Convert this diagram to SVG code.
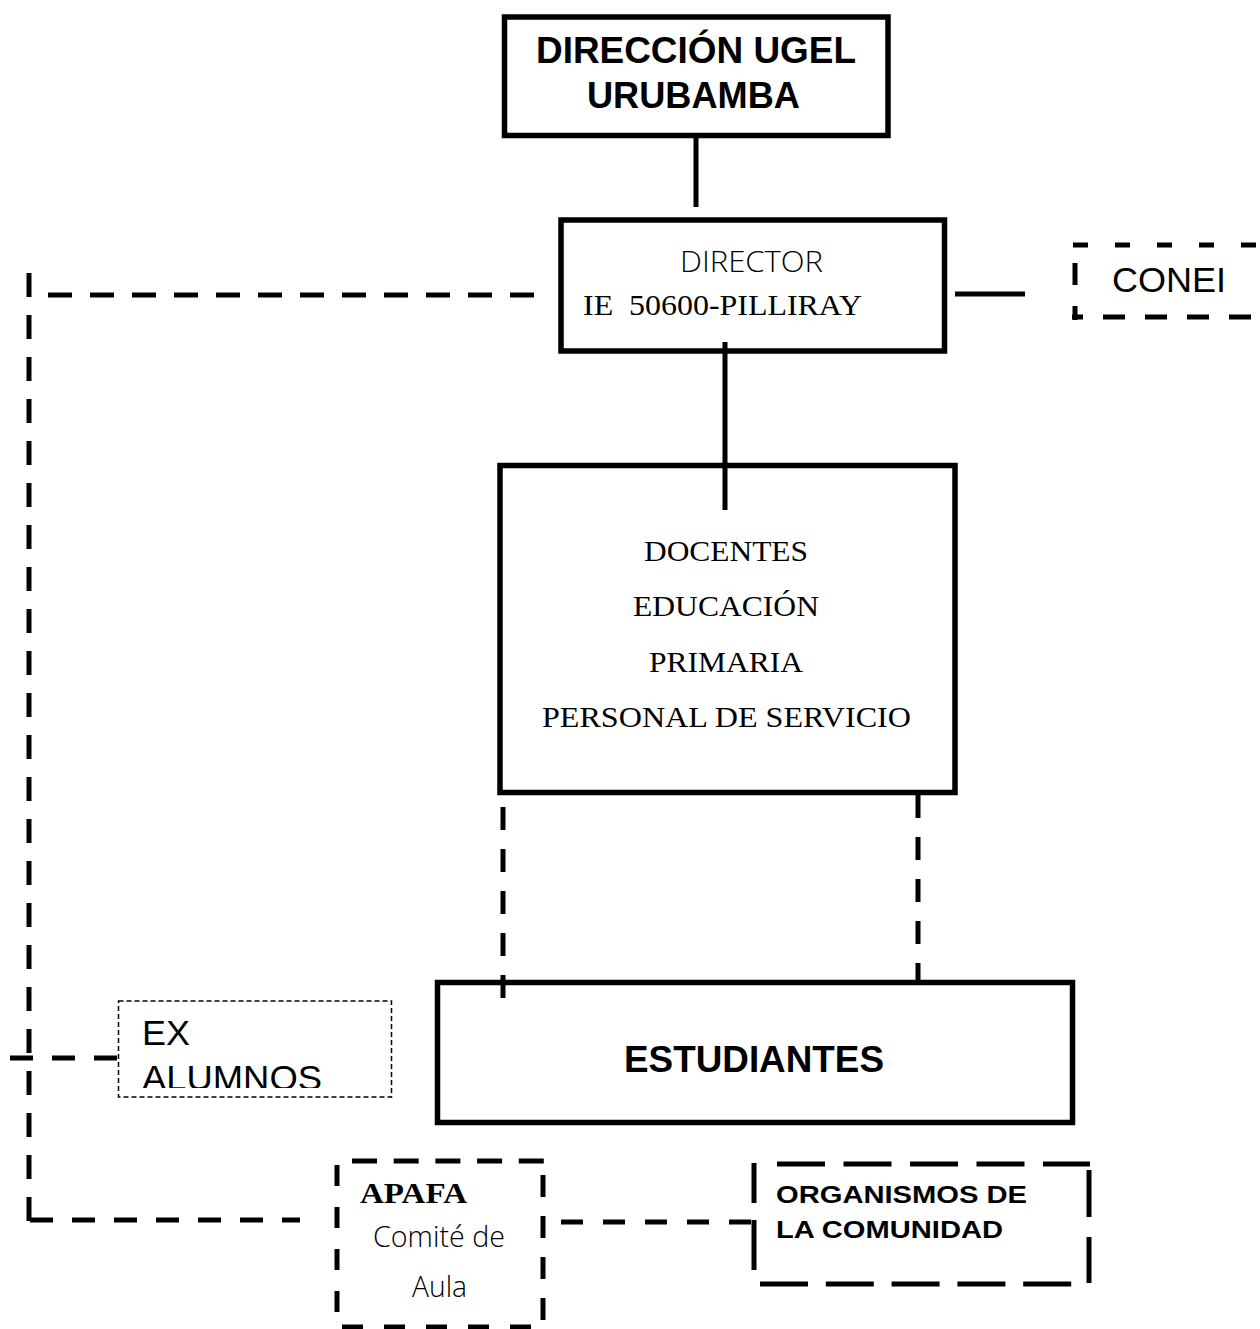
<svg xmlns="http://www.w3.org/2000/svg" width="1260" height="1329" viewBox="0 0 1260 1329">
<style>
.box{fill:#fff;stroke:#000;stroke-width:5.5}
.solid{stroke:#000;stroke-width:5;fill:none}
.dash{stroke:#000;stroke-width:5;fill:none;stroke-dasharray:23 19}
.sansb{font-family:"Liberation Sans",Arial,sans-serif;font-weight:bold;fill:#000}
.sans{font-family:"Liberation Sans",Arial,sans-serif;fill:#000}
.serif{font-family:"Liberation Serif","Times New Roman",serif;fill:#000}
.light{font-family:"Open Sans","Noto Sans",sans-serif;font-weight:300;fill:#000}
</style>
<defs>
<clipPath id="exclip"><rect x="119" y="1002" width="271" height="86"/></clipPath>
</defs>
<rect width="1260" height="1329" fill="#fff"/>
<g id="n-ugel">
<rect class="box" x="504.5" y="17" width="383.5" height="118.5"/>
<text class="sansb" x="536" y="63" font-size="36" textLength="320" lengthAdjust="spacingAndGlyphs">DIRECCIÓN UGEL</text>
<text class="sansb" x="587" y="108" font-size="36" textLength="213" lengthAdjust="spacingAndGlyphs">URUBAMBA</text>
</g>
<g id="n-director">
<rect class="box" x="561" y="220" width="383.5" height="131"/>
<text class="light" x="680" y="272" font-size="29" textLength="143" lengthAdjust="spacingAndGlyphs">DIRECTOR</text>
<text class="serif" x="583" y="315" font-size="30" textLength="279" lengthAdjust="spacingAndGlyphs" xml:space="preserve">IE  50600-PILLIRAY</text>
</g>
<g id="n-docentes">
<rect class="box" x="500" y="465.5" width="455" height="327"/>
<text class="serif" x="644" y="561" font-size="30" textLength="164" lengthAdjust="spacingAndGlyphs">DOCENTES</text>
<text class="serif" x="633" y="616" font-size="30" textLength="186" lengthAdjust="spacingAndGlyphs">EDUCACIÓN</text>
<text class="serif" x="649" y="672" font-size="30" textLength="154" lengthAdjust="spacingAndGlyphs">PRIMARIA</text>
<text class="serif" x="542" y="727" font-size="30" textLength="369" lengthAdjust="spacingAndGlyphs">PERSONAL DE SERVICIO</text>
</g>
<g id="n-estudiantes">
<rect class="box" x="437.5" y="982.5" width="635" height="140"/>
<text class="sansb" x="624" y="1072" font-size="36" textLength="260" lengthAdjust="spacingAndGlyphs">ESTUDIANTES</text>
</g>
<g id="n-conei">
<line class="solid" x1="1073" y1="245" x2="1262" y2="245" style="stroke-dasharray:15 27"/>
<line class="solid" x1="1075" y1="263" x2="1075" y2="320" style="stroke-dasharray:22 21"/>
<line class="solid" x1="1072" y1="317" x2="1262" y2="317" style="stroke-dasharray:22 20;stroke-dashoffset:11"/>
<text class="sans" x="1112" y="292" font-size="35" textLength="114" lengthAdjust="spacingAndGlyphs">CONEI</text>
</g>
<g id="n-exalumnos">
<rect x="118.5" y="1001" width="273" height="96" fill="#fff" stroke="#000" stroke-width="1.5" stroke-dasharray="5 3"/>
<g clip-path="url(#exclip)">
<text class="sans" x="142" y="1045" font-size="35" textLength="48" lengthAdjust="spacingAndGlyphs">EX</text>
<text class="sans" x="142" y="1090" font-size="35" textLength="180" lengthAdjust="spacingAndGlyphs">ALUMNOS</text>
</g>
</g>
<g id="n-apafa">
<line class="solid" x1="337" y1="1165" x2="337" y2="1313" style="stroke-dasharray:21 21"/>
<line class="solid" x1="352" y1="1161" x2="544" y2="1161" style="stroke-dasharray:25 16.7"/>
<line class="solid" x1="543" y1="1175" x2="543" y2="1323" style="stroke-dasharray:22 19"/>
<line class="solid" x1="342" y1="1327" x2="531" y2="1327" style="stroke-dasharray:21 21"/>
<text class="serif" x="360" y="1203" font-size="30" font-weight="bold" textLength="107" lengthAdjust="spacingAndGlyphs">APAFA</text>
<text class="light" x="373" y="1247" font-size="29" textLength="132" lengthAdjust="spacingAndGlyphs">Comité de</text>
<text class="light" x="412" y="1297" font-size="29" textLength="55" lengthAdjust="spacingAndGlyphs">Aula</text>
</g>
<g id="n-organismos">
<line class="solid" x1="754" y1="1163" x2="754" y2="1203"/>
<line class="solid" x1="754" y1="1220" x2="754" y2="1270"/>
<line class="solid" x1="777" y1="1164" x2="1090" y2="1164" style="stroke-dasharray:48 18.5"/>
<line class="solid" x1="1089" y1="1170" x2="1089" y2="1217"/>
<line class="solid" x1="1089" y1="1237" x2="1089" y2="1283"/>
<line class="solid" x1="760" y1="1284" x2="1072" y2="1284" style="stroke-dasharray:48 17.8"/>
<text class="sansb" x="776" y="1203" font-size="24" textLength="251" lengthAdjust="spacingAndGlyphs">ORGANISMOS DE</text>
<text class="sansb" x="776" y="1238" font-size="24" textLength="227" lengthAdjust="spacingAndGlyphs">LA COMUNIDAD</text>
</g>
<g id="connectors">
<line class="solid" x1="696" y1="137" x2="696" y2="207"/>
<line class="solid" x1="725" y1="342" x2="725" y2="510"/>
<line class="solid" x1="955" y1="294" x2="1025" y2="294"/>
<line class="dash" x1="534" y1="295" x2="48" y2="295" style="stroke-dasharray:24 18"/>
<line class="dash" x1="29" y1="273" x2="29" y2="1222" style="stroke-dasharray:24 18"/>
<line class="dash" x1="30" y1="1220" x2="300" y2="1220" style="stroke-dasharray:23 19"/>
<line class="dash" x1="10" y1="1058" x2="118" y2="1058"/>
<line class="dash" x1="503" y1="807" x2="503" y2="998"/>
<line class="dash" x1="918" y1="795" x2="918" y2="980"/>
<line class="dash" x1="561" y1="1222" x2="754" y2="1222" style="stroke-dasharray:22 20"/>
</g>
</svg>
